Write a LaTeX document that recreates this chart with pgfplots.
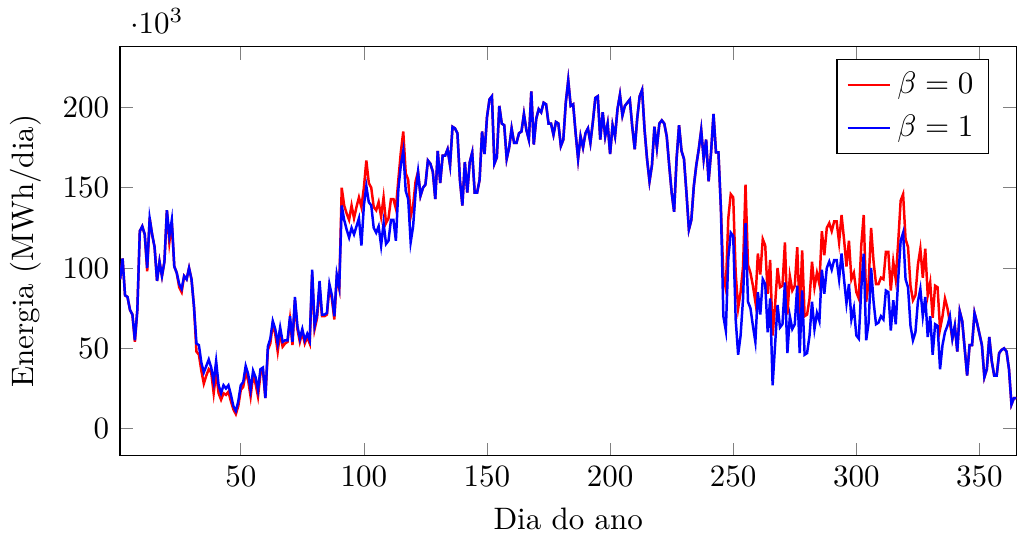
\documentclass[border=0pt]{standalone}
\usepackage{pgfplots}
\pgfplotsset{compat=1.18}
\usepackage{pgfplotstable}

% energia diaria (em milhares de MWh): r = beta 0, b = beta 1
\pgfplotstableread{
d r b
1 93 93
2 106 106
3 83 83
4 82 82
5 74 74
6 71 71
7 54 55
8 74 74
9 123 123
10 126 126
11 121 121
12 98 100
13 131 131
14 121 121
15 113 113
16 92 92
17 104 104
18 95 95
19 104 104
20 136 136
21 116 120
22 128 130
23 101 101
24 97 97
25 88 90
26 85 87
27 95 95
28 93 93
29 100 100
30 93 93
31 76 76
32 48 53
33 46 52
34 36 41
35 28 35
36 33 39
37 37 43
38 35 38
39 22 29
40 35 42
41 22 27
42 18 22
43 22 27
44 21 25
45 23 27
46 17 21
47 12 14
48 9 11
49 14 17
50 24 27
51 26 29
52 35 39
53 30 34
54 20 24
55 33 36
56 28 32
57 20 24
58 34 37
59 36 38
60 19 19
61 49 51
62 53 56
63 65 67
64 59 62
65 48 53
66 60 63
67 51 54
68 53 55
69 54 55
70 68 70
71 52 54
72 80 82
73 62 64
74 54 56
75 60 62
76 53 55
77 57 59
78 53 55
79 96 99
80 62 64
81 69 71
82 88 92
83 70 71
84 70 71
85 71 72
86 88 90
87 81 83
88 68 70
89 94 96
90 87 88
91 150 139
92 139 130
93 134 124
94 130 119
95 139 125
96 131 121
97 138 126
98 144 131
99 138 114
100 150 139
101 167 151
102 153 141
103 150 139
104 138 125
105 136 122
106 141 126
107 132 114
108 144 128
109 128 115
110 131 117
111 143 130
112 143 130
113 137 117
114 155 149
115 172 164
116 185 173
117 159 148
118 155 143
119 132 116
120 139 126
121 154 147
122 160 160
123 145 145
124 150 150
125 152 152
126 167 167
127 165 165
128 160 160
129 143 143
130 173 173
131 153 153
132 170 170
133 170 170
134 174 174
135 164 164
136 188 188
137 187 187
138 184 184
139 155 155
140 139 139
141 166 166
142 147 147
143 166 166
144 172 172
145 147 147
146 147 147
147 155 155
148 185 185
149 171 171
150 194 194
151 205 205
152 207 207
153 165 165
154 169 169
155 201 201
156 190 190
157 189 189
158 168 168
159 175 175
160 187 187
161 178 178
162 178 178
163 184 184
164 185 185
165 196 196
166 186 186
167 180 180
168 210 210
169 177 177
170 193 193
171 199 199
172 197 197
173 203 203
174 202 202
175 190 190
176 190 190
177 183 183
178 191 191
179 190 190
180 176 176
181 180 180
182 203 203
183 217 217
184 201 201
185 202 202
186 184 184
187 168 168
188 182 182
189 175 175
190 184 184
191 187 187
192 178 178
193 191 191
194 206 206
195 207 207
196 180 180
197 197 197
198 182 182
199 190 190
200 171 171
201 189 189
202 182 182
203 199 199
204 208 208
205 195 195
206 201 201
207 203 203
208 205 205
209 188 188
210 174 174
211 193 193
212 207 207
213 211 211
214 186 186
215 168 168
216 154 154
217 164 164
218 188 188
219 175 175
220 190 190
221 192 192
222 190 190
223 182 182
224 164 164
225 147 147
226 135 135
227 168 168
228 189 189
229 173 173
230 168 168
231 147 147
232 124 124
233 130 130
234 151 151
235 164 164
236 174 174
237 186 186
238 168 168
239 180 180
240 154 154
241 172 172
242 196 196
243 172 172
244 172 172
245 137 137
246 95 70
247 87 61
248 131 106
249 146 122
250 144 120
251 97 68
252 75 46
253 85 58
254 101 81
255 152 128
256 102 79
257 97 75
258 89 64
259 79 54
260 109 85
261 96 71
262 118 93
263 114 90
264 84 60
265 105 81
266 58 27
267 77 52
268 100 77
269 88 63
270 89 65
271 116 91
272 71 47
273 95 70
274 86 62
275 89 65
276 113 89
277 71 47
278 111 86
279 70 46
280 71 47
281 81 58
282 104 79
283 88 62
284 97 72
285 90 67
286 123 99
287 108 84
288 125 100
289 128 104
290 123 99
291 129 105
292 129 105
293 116 93
294 133 109
295 118 93
296 101 78
297 117 90
298 93 68
299 97 75
300 85 58
301 81 56
302 114 87
303 133 109
304 79 55
305 91 66
306 125 100
307 104 79
308 90 65
309 90 66
310 94 70
311 93 68
312 110 86
313 110 85
314 86 61
315 104 80
316 93 65
317 116 93
318 142 117
319 146 122
320 118 93
321 113 88
322 89 64
323 80 55
324 83 60
325 102 79
326 112 87
327 94 70
328 112 82
329 83 57
330 91 70
331 69 46
332 89 65
333 88 64
334 62 37
335 70 52
336 81 60
337 75 64
338 66 70
339 56 56
340 64 64
341 48 48
342 73 73
343 67 67
344 50 50
345 33 33
346 52 52
347 52 52
348 72 72
349 66 66
350 59 59
351 52 52
352 32 32
353 37 37
354 57 57
355 42 42
356 33 33
357 33 33
358 47 47
359 49 49
360 50 50
361 48 48
362 37 37
363 15 15
364 19 19
365 19 19
}\energia

\begin{document}
\begin{tikzpicture}
\begin{axis}[
  scale only axis,
  width=289pt,
  height=132pt,
  xmin=1, xmax=365,
  ymin=-17, ymax=238,
  ytick={0,50,100,150,200},
  scaled y ticks=manual:{$\cdot 10^{3}$}{\pgfmathparse{#1}},
  xlabel={Dia do ano},
  ylabel={Energia (MWh/dia)},
  legend pos=north east,
  legend cell align=left,
  legend style={row sep=1.5pt},
  legend image code/.code={\draw[#1] (0cm,0cm) -- (0.48cm,0cm);},
]
\addplot[thick, red] table[x=d, y=r] {\energia};
\addplot[thick, blue] table[x=d, y=b] {\energia};
\legend{$\beta=0$, $\beta=1$}
\end{axis}
% room above the scale label, as in the reference
\path ([yshift=15pt]current axis.north west);
\end{tikzpicture}
\end{document}
